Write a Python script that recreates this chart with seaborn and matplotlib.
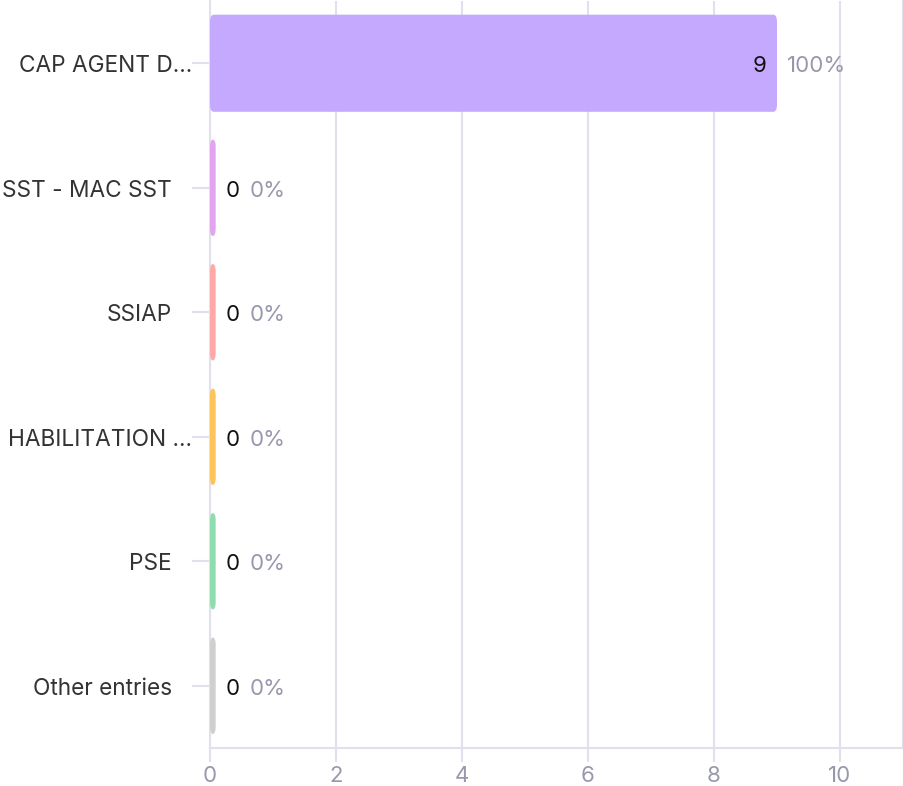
import numpy as np
import pandas as pd
import matplotlib
matplotlib.use("Agg")
import matplotlib.pyplot as plt
import seaborn as sns
from matplotlib.patches import FancyBboxPatch

# Data
categories = ["CAP AGENT D...", "SST - MAC SST", "SSIAP", "HABILITATION ...", "PSE", "Other entries"]
counts = [9, 0, 0, 0, 0, 0]
percents = ["100%", "0%", "0%", "0%", "0%", "0%"]
bar_colors = ["#c4a9ff", "#e2a3ef", "#ffa8a8", "#ffc35c", "#8fdcae", "#cfcfcf"]
x_ticks = [0, 2, 4, 6, 8, 10]

GRID = "#e1e0ee"
TICK_TEXT = "#9898ad"
LABEL_TEXT = "#333333"

sns.set_style("white")
plt.rcParams['font.family'] = ['Inter', 'DejaVu Sans']

df = pd.DataFrame({"category": categories, "count": counts})
# zero bars still show as a thin sliver
df["shown"] = df["count"].clip(lower=0.09)

fig = plt.figure(figsize=(9.04, 7.86), dpi=100)
ax = fig.add_axes([210 / 904, 38 / 786, 693 / 904, 747 / 786])

sns.barplot(data=df, x="shown", y="category", hue="category",
            palette=bar_colors, legend=False, width=0.78, ax=ax,
            saturation=1)

# swap plain rectangles for rounded ones
for patch in list(ax.patches):
    x0, y0 = patch.get_x(), patch.get_y()
    w, h = patch.get_width(), patch.get_height()
    color = patch.get_facecolor()
    patch.remove()
    rr = FancyBboxPatch((x0, y0), w, h,
                        boxstyle="round,pad=0,rounding_size=0.06",
                        facecolor=color, edgecolor="none", zorder=3)
    ax.add_patch(rr)

ax.set_xlim(0, 11)
ax.set_ylim(5.5, -0.5)
ax.set_xticks(x_ticks)
ax.set_xlabel("")
ax.set_ylabel("")
ax.grid(axis="x", color=GRID, linewidth=1.5, zorder=0)
ax.set_axisbelow(True)

ax.spines["top"].set_visible(False)
for side in ["left", "bottom", "right"]:
    ax.spines[side].set_color(GRID)
    ax.spines[side].set_linewidth(1.5)

ax.tick_params(axis="x", colors=GRID, labelcolor=TICK_TEXT, labelsize=16,
               length=10, width=1.5, pad=3, bottom=True)
ax.tick_params(axis="y", colors=GRID, length=13, width=1.5, left=True)
ax.set_yticklabels([])

# category labels; truncated ones sit a little further right
for i, name in enumerate(categories):
    off = -18 if name.endswith("...") else -38
    ax.annotate(name, xy=(0, i), xycoords=("axes fraction", "data"),
                xytext=(off, -3), textcoords="offset pixels",
                ha="right", va="center", fontsize=16.3, color=LABEL_TEXT)

# value and percent labels
for i, (v, p) in enumerate(zip(counts, percents)):
    if v > 0:
        ax.annotate(str(v), xy=(v, i), xytext=(-10, -3), textcoords="offset pixels",
                    ha="right", va="center", fontsize=16, color="#111111", zorder=5)
        ax.annotate(p, xy=(v, i), xytext=(10, -3), textcoords="offset pixels",
                    ha="left", va="center", fontsize=16, color=TICK_TEXT)
    else:
        ax.annotate(str(v), xy=(0, i), xytext=(16, -3), textcoords="offset pixels",
                    ha="left", va="center", fontsize=16, color="#111111")
        ax.annotate(p, xy=(0, i), xytext=(40, -3), textcoords="offset pixels",
                    ha="left", va="center", fontsize=16, color=TICK_TEXT)

fig.savefig("out.png", dpi=100)
